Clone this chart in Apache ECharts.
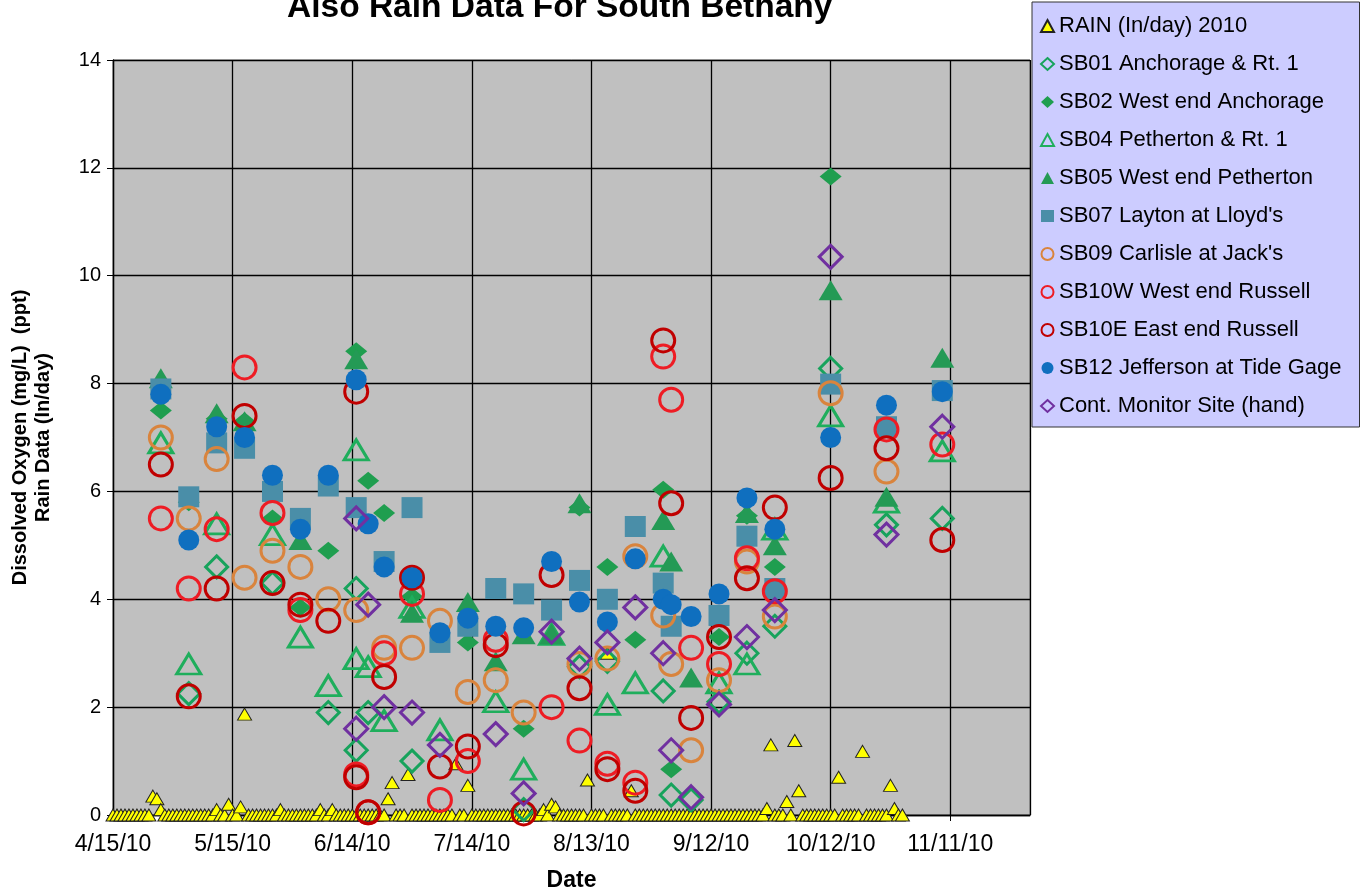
<!DOCTYPE html>
<html lang="en">
<head>
<meta charset="UTF-8">
<title>South Bethany DO</title>
<style>
  html, body { margin: 0; padding: 0; background: #fff; }
  #main { width: 1362px; height: 890px; }
</style>
<script src="https://cdn.jsdelivr.net/npm/echarts@6/dist/echarts.min.js"></script>
</head>
<body>
<div id="main"></div>
<script>
// x axis counts days from 4/15/2010
var startYear = 2010, startMonth = 4, startDay = 15;
var xMin = 0, xMax = 230, xStep = 30;
var yMin = 0, yMax = 14, yStep = 2;

// daily rain (in/day), index 0 = 4/15/10
var rain = [
  0, 0, 0, 0, 0, 0, 0, 0, 0, 0,
  0.35, 0.3, 0.1, 0, 0, 0, 0, 0, 0, 0,
  0, 0, 0, 0, 0, 0, 0.1, 0, 0, 0.2,
  0, 0, 0.15, 1.87, 0, 0, 0, 0, 0, 0,
  0, 0, 0.1, 0, 0, 0, 0, 0, 0, 0,
  0, 0, 0.1, 0, 0, 0.1, 0, 0, 0, 0,
  0, 0, 0, 0, 0, 0, 0, 0, 0, 0.3,
  0.6, 0, 0, 0, 0.75, 0, 0, 0, 0, 0,
  0, 0, 0, 0, 0, 0, 0.95, 0, 0, 0.55,
  0, 0, 0, 0, 0, 0, 0, 0, 0, 0,
  0, 0, 0, 0, 0, 0, 0, 0, 0.1, 0,
  0.2, 0.15, 0, 0, 0, 0, 0, 0, 0, 0.65,
  0, 0, 0, 0, 3.0, 0, 0, 0, 0, 0,
  0.45, 0, 0, 0, 0, 0, 0, 0, 0, 0,
  0, 0, 0, 0, 0, 0, 0, 0, 0, 0,
  0, 0, 0, 0, 0, 0, 0, 0, 0, 0,
  0, 0, 0, 0, 0.12, 1.3, 0, 0, 0, 0.25,
  0, 1.38, 0.45, 0, 0, 0, 0, 0, 0, 0,
  0, 0, 0.7, 0, 0, 0, 0, 0, 1.18, 0,
  0, 0, 0, 0, 0, 0.55, 0.12, 0, 0
];

// dissolved oxygen samples, [date, mg/L]
var sb01 = [['5/4',2.25],['5/11',4.6],['5/25',4.3],['6/8',1.9],['6/15',4.2],['6/15',1.2],['6/18',1.9],
  ['6/29',1.0],['7/27',0.1],['8/10',2.75],['8/17',2.85],['8/31',2.3],['9/2',0.37],['9/7',0.28],
  ['9/14',2.1],['9/21',3.0],['9/28',3.5],['10/12',8.28],['10/26',5.38],['11/9',5.5]];
var sb02 = [['4/27',7.5],['5/4',5.8],['5/11',7.35],['5/18',7.3],['5/25',5.5],['6/1',3.85],['6/8',4.9],
  ['6/15',8.6],['6/18',6.2],['6/22',5.6],['6/29',4.05],['7/13',3.2],['7/27',1.6],['8/10',5.7],
  ['8/17',4.6],['8/24',3.25],['8/31',6.03],['9/2',0.85],['9/14',3.3],['9/21',5.55],['9/28',4.6],
  ['10/12',11.84]];
var sb04 = [['4/27',6.9],['5/4',2.8],['5/11',5.4],['5/25',5.2],['6/1',3.3],['6/8',2.4],['6/15',6.77],
  ['6/15',2.9],['6/18',2.75],['6/22',1.75],['6/29',3.85],['7/6',1.58],['7/20',2.1],['7/27',0.85],
  ['8/3',3.35],['8/17',2.05],['8/24',2.45],['8/31',4.8],['9/14',2.45],['9/21',2.8],['9/28',5.3],
  ['10/12',7.4],['10/26',5.8],['11/9',6.75]];
var sb05 = [['4/27',8.1],['5/11',7.45],['5/18',7.3],['6/1',5.1],['6/15',8.45],['6/29',3.75],['7/13',3.95],
  ['7/20',2.85],['7/27',3.35],['8/3',3.35],['8/10',5.78],['8/31',5.47],['9/2',4.7],['9/7',2.55],
  ['9/21',5.6],['9/28',5.0],['10/12',9.73],['10/26',5.9],['11/9',8.48]];
var sb07 = [['4/27',7.9],['5/4',5.9],['5/11',6.9],['5/18',6.8],['5/25',6.0],['6/1',5.5],['6/8',6.1],
  ['6/15',5.7],['6/22',4.7],['6/29',5.7],['7/6',3.2],['7/13',3.5],['7/20',4.2],['7/27',4.1],['8/3',3.8],
  ['8/10',4.35],['8/17',4.0],['8/24',5.35],['8/31',4.3],['9/2',3.5],['9/14',3.7],['9/21',5.17],
  ['9/28',4.2],['10/12',7.99],['10/26',7.2],['11/9',7.87]];
var sb09 = [['4/27',7.0],['5/4',5.5],['5/11',6.6],['5/18',4.4],['5/25',4.9],['6/1',4.6],['6/8',4.0],
  ['6/15',3.8],['6/22',3.1],['6/29',3.1],['7/6',3.6],['7/13',2.28],['7/20',2.5],['7/27',1.9],
  ['8/10',2.8],['8/17',2.9],['8/24',4.8],['8/31',3.7],['9/2',2.8],['9/7',1.2],['9/14',2.5],
  ['9/21',4.7],['9/28',3.68],['10/12',7.82],['10/26',6.37]];
var sb10w = [['4/27',5.5],['5/4',4.2],['5/11',5.3],['5/18',8.3],['5/25',5.6],['6/1',3.8],['6/15',0.75],
  ['6/18',0.05],['6/22',3.0],['6/29',4.1],['7/6',0.28],['7/13',1.0],['7/20',3.25],['8/3',2.0],
  ['8/10',1.38],['8/17',0.95],['8/24',0.6],['8/31',8.5],['9/2',7.7],['9/7',3.1],['9/14',2.8],
  ['9/21',4.76],['9/28',4.15],['10/26',7.15],['11/9',6.87]];
var sb10e = [['4/27',6.5],['5/4',2.2],['5/11',4.2],['5/18',7.4],['5/25',4.3],['6/1',3.9],['6/8',3.6],
  ['6/15',7.85],['6/15',0.7],['6/18',0.05],['6/22',2.56],['6/29',4.4],['7/6',0.9],['7/13',1.27],
  ['7/20',3.15],['7/27',0.03],['8/3',4.45],['8/10',2.35],['8/17',0.85],['8/24',0.45],['8/31',8.8],
  ['9/2',5.78],['9/7',1.8],['9/14',3.3],['9/21',4.39],['9/28',5.7],['10/12',6.25],['10/26',6.8],
  ['11/9',5.1]];
var sb12 = [['4/27',7.8],['5/4',5.1],['5/11',7.2],['5/18',7.0],['5/25',6.3],['6/1',5.3],['6/8',6.3],
  ['6/15',8.07],['6/18',5.4],['6/22',4.6],['6/29',4.4],['7/6',3.38],['7/13',3.65],['7/20',3.5],
  ['7/27',3.47],['8/3',4.7],['8/10',3.95],['8/17',3.58],['8/24',4.75],['8/31',4.0],['9/2',3.9],
  ['9/7',3.68],['9/14',4.1],['9/21',5.88],['9/28',5.3],['10/12',7.0],['10/26',7.6],['11/9',7.85]];
var cont = [['6/15',5.5],['6/15',1.6],['6/18',3.9],['6/22',2.0],['6/29',1.9],['7/6',1.3],['7/20',1.5],
  ['7/27',0.4],['8/3',3.4],['8/10',2.9],['8/17',3.2],['8/24',3.85],['8/31',3.0],['9/2',1.2],
  ['9/7',0.33],['9/14',2.05],['9/21',3.3],['9/28',3.8],['10/12',10.35],['10/26',5.2],['11/9',7.2]];

var names = ['RAIN (In/day) 2010', 'SB01 Anchorage & Rt. 1', 'SB02 West end Anchorage',
  'SB04 Petherton & Rt. 1', 'SB05 West end Petherton', "SB07 Layton at Lloyd's",
  "SB09 Carlisle at Jack's", 'SB10W West end Russell', 'SB10E East end Russell',
  'SB12 Jefferson at Tide Gage', 'Cont. Monitor Site (hand)'];

var startMs = Date.UTC(startYear, startMonth - 1, startDay);
function dayOf(md) {
    var p = md.split('/');
    return Math.round((Date.UTC(startYear, +p[0] - 1, +p[1]) - startMs) / 86400000);
}
function toPoints(arr) {
    return arr.map(function (r) { return [dayOf(r[0]), r[1]]; });
}
function dateLabel(v) {
    if (v % xStep !== 0) return '';
    var d = new Date(startMs + v * 86400000);
    return (d.getUTCMonth() + 1) + '/' + d.getUTCDate() + '/' + String(d.getUTCFullYear()).slice(2);
}

function openSym(name, data, symbol, size, color) {
    return { name: name, type: 'scatter', data: toPoints(data), symbol: symbol, symbolSize: size,
        itemStyle: { color: 'rgba(0,0,0,0)', borderColor: color, borderWidth: 3, opacity: 1 } };
}
function fillSym(name, data, symbol, size, color) {
    return { name: name, type: 'scatter', data: toPoints(data), symbol: symbol, symbolSize: size,
        itemStyle: { color: color, opacity: 1 } };
}

var series = [
    { name: names[0], type: 'scatter', data: rain.map(function (v, i) { return [i, v]; }),
      symbol: 'triangle', symbolSize: [14, 12],
      itemStyle: { color: '#ffff00', borderColor: '#222', borderWidth: 1, opacity: 1 } },
    openSym(names[1], sb01, 'diamond', 22, '#17a35c'),
    fillSym(names[2], sb02, 'diamond', [22, 18], '#1f9e4f'),
    openSym(names[3], sb04, 'triangle', [24, 20], '#1fae5c'),
    fillSym(names[4], sb05, 'triangle', [24, 20], '#249a55'),
    fillSym(names[5], sb07, 'rect', 21, '#4a8ea8'),
    openSym(names[6], sb09, 'circle', 23, '#d9843d'),
    openSym(names[7], sb10w, 'circle', 23, '#ee1c24'),
    openSym(names[8], sb10e, 'circle', 23, '#c00000'),
    fillSym(names[9], sb12, 'circle', 21, '#0f6fbf'),
    openSym(names[10], cont, 'diamond', 23, '#7030a0')
];

var chart = echarts.init(document.getElementById('main'));
chart.setOption({
    animation: false,
    textStyle: { fontFamily: 'Liberation Sans, Arial, sans-serif' },
    title: {
        text: 'Also Rain Data For South Bethany',
        left: 287, top: -9, padding: 0,
        textStyle: { fontSize: 33.5, fontWeight: 'bold', color: '#000' }
    },
    legend: {
        orient: 'vertical', left: 1032, top: 2,
        padding: [13, 18, 10, 8],
        itemWidth: 13, itemHeight: 12, itemGap: 16,
        backgroundColor: '#ccccff', borderColor: '#333', borderWidth: 1,
        textStyle: { fontSize: 22, color: '#000', lineHeight: 22 },
        data: names
    },
    grid: {
        left: 113, top: 60, width: 917, height: 755,
        outerBoundsMode: 'none', containLabel: false,
        show: true, backgroundColor: '#c0c0c0', borderColor: '#808080', borderWidth: 1
    },
    xAxis: {
        type: 'value', min: xMin, max: xMax, interval: xStep,
        name: 'Date', nameLocation: 'middle', nameGap: 54,
        nameTextStyle: { fontSize: 23, fontWeight: 'bold', color: '#000' },
        axisLine: { lineStyle: { color: '#000', width: 1.3 } },
        axisTick: { show: true, length: 6, lineStyle: { color: '#000' } },
        axisLabel: { formatter: dateLabel, fontSize: 23, color: '#000', margin: 18, showMaxLabel: false },
        splitLine: { show: true, lineStyle: { color: '#000', width: 1.3 } }
    },
    yAxis: {
        type: 'value', min: yMin, max: yMax, interval: yStep,
        name: 'Dissolved Oxygen (mg/L)  (ppt)\nRain Data (In/day)',
        nameLocation: 'middle', nameRotate: 90, nameGap: 58,
        nameTextStyle: { fontSize: 20, fontWeight: 'bold', color: '#000', lineHeight: 23 },
        axisLine: { lineStyle: { color: '#000', width: 1.3 } },
        axisTick: { show: true, length: 6, lineStyle: { color: '#000' } },
        axisLabel: { fontSize: 20, color: '#000', margin: 12 },
        splitLine: { show: true, lineStyle: { color: '#000', width: 1.3 } }
    },
    series: series
});
</script>
</body>
</html>
